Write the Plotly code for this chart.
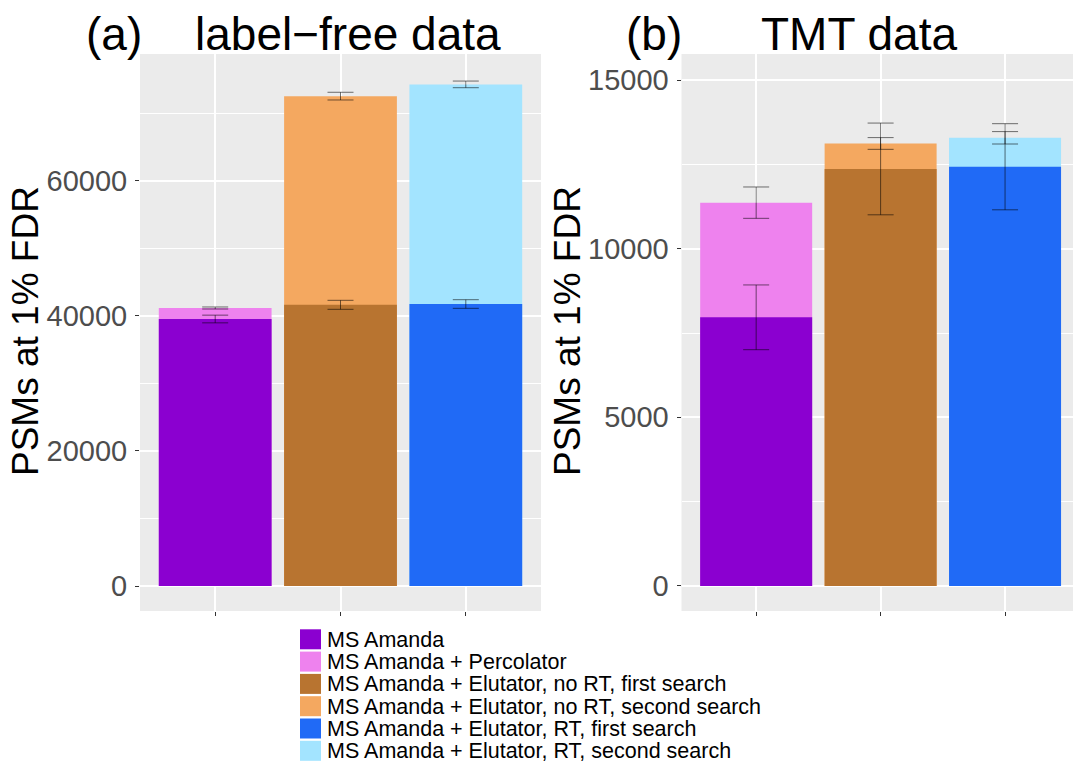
import plotly.graph_objects as go

W, H = 1073, 765

# ---- data ----
methods = [
    "MS Amanda",
    "MS Amanda + Percolator",
    "MS Amanda + Elutator, no RT, first search",
    "MS Amanda + Elutator, no RT, second search",
    "MS Amanda + Elutator, RT, first search",
    "MS Amanda + Elutator, RT, second search",
]
colors = ["#8B00D0", "#EE82EE", "#B87430", "#F4A860", "#206AF6", "#A3E4FF"]
group_x = [1, 1, 2, 2, 3, 3]  # bar position of each method

lf_values = [39550, 41180, 41650, 72560, 41770, 74300]
lf_errors = [570, 150, 667, 570, 640, 493]

tmt_values = [7965, 11365, 12365, 13120, 12430, 13288]
tmt_errors = [960, 465, 1360, 174, 1277, 184]

panel_titles = [("(a)", "label\u2212free data"), ("(b)", "TMT data")]
y_title = "PSMs at 1% FDR"

FONT = "Liberation Sans, Arial, sans-serif"

fig = go.Figure()

# draw the taller "second" bars first, then the "first" bars on top
draw_order = [1, 3, 5, 0, 2, 4]
for p, (vals, errs) in enumerate([(lf_values, lf_errors), (tmt_values, tmt_errors)]):
    xa = "x" if p == 0 else "x2"
    ya = "y" if p == 0 else "y2"
    for i in draw_order:
        fig.add_trace(go.Bar(
            x=[group_x[i]], y=[vals[i]], width=0.9,
            marker=dict(color=colors[i], line=dict(width=0)),
            error_y=dict(type="data", array=[errs[i]], visible=True,
                         color="rgba(0,0,0,0.55)", thickness=1, width=13),
            name=methods[i], showlegend=False, xaxis=xa, yaxis=ya,
        ))

ytop, ybot = 54, 611
ydom = [(H - ybot) / H, (H - ytop) / H]

axis_common = dict(showline=False, zeroline=False, ticks="outside", ticklen=4,
                   tickcolor="#333333", tickwidth=1, gridcolor="white", gridwidth=1.6,
                   tickfont=dict(family=FONT, size=29, color="#4D4D4D"))

fig.update_layout(
    width=W, height=H, autosize=False,
    margin=dict(l=0, r=0, t=0, b=0),
    paper_bgcolor="white", plot_bgcolor="#EBEBEB",
    barmode="overlay", showlegend=False,
    xaxis=dict(domain=[140 / W, 541 / W], range=[0.4, 3.6], tickvals=[1, 2, 3],
               showticklabels=False, **axis_common),
    yaxis=dict(domain=ydom, range=[-3700, 78800], tick0=0, dtick=20000, tickformat="d",
               minor=dict(dtick=10000, showgrid=True, gridcolor="white", gridwidth=0.7, ticklen=0),
               ticklabelstandoff=2, **axis_common),
    xaxis2=dict(domain=[681.5 / W, 1.0], range=[0.4, 3.546], tickvals=[1, 2, 3],
                showticklabels=False, anchor="y2", **axis_common),
    yaxis2=dict(domain=ydom, range=[-743, 15773], tick0=0, dtick=5000, tickformat="d",
                minor=dict(dtick=2500, showgrid=True, gridcolor="white", gridwidth=0.7, ticklen=0),
                ticklabelstandoff=2, anchor="x2", **axis_common),
)

ann = []
# panel titles
tag_x = [113.5, 654]
name_x = [347.7, 858.6]
for p, (tag, name) in enumerate(panel_titles):
    for txt, xp in [(tag, tag_x[p]), (name, name_x[p])]:
        ann.append(dict(text=txt, x=xp / W, y=(H - 34) / H, xref="paper", yref="paper",
                        xanchor="center", yanchor="middle", showarrow=False,
                        font=dict(family=FONT, size=46, color="black")))
# y axis titles
for xp in [25, 567]:
    ann.append(dict(text=y_title, x=xp / W, y=(H - 331) / H, xref="paper", yref="paper",
                    xanchor="center", yanchor="middle", showarrow=False, textangle=-90,
                    font=dict(family=FONT, size=37, color="black")))

# legend (manual, tight rows as in the reference)
shapes = []
row0, row_h, sw = 629.3, 22.3, 20
for i, (m, c) in enumerate(zip(methods, colors)):
    top = row0 + i * row_h
    shapes.append(dict(type="rect", xref="paper", yref="paper",
                       x0=300 / W, x1=321 / W, y0=(H - top - sw) / H, y1=(H - top) / H,
                       fillcolor=c, line=dict(width=0)))
    ann.append(dict(text=m, x=325 / W, y=(H - top - sw / 2 - 0.5) / H, xref="paper", yref="paper",
                    xanchor="left", yanchor="middle", showarrow=False,
                    font=dict(family=FONT, size=21.5, color="black")))

fig.update_layout(annotations=ann, shapes=shapes)
fig.write_html("out.html")
